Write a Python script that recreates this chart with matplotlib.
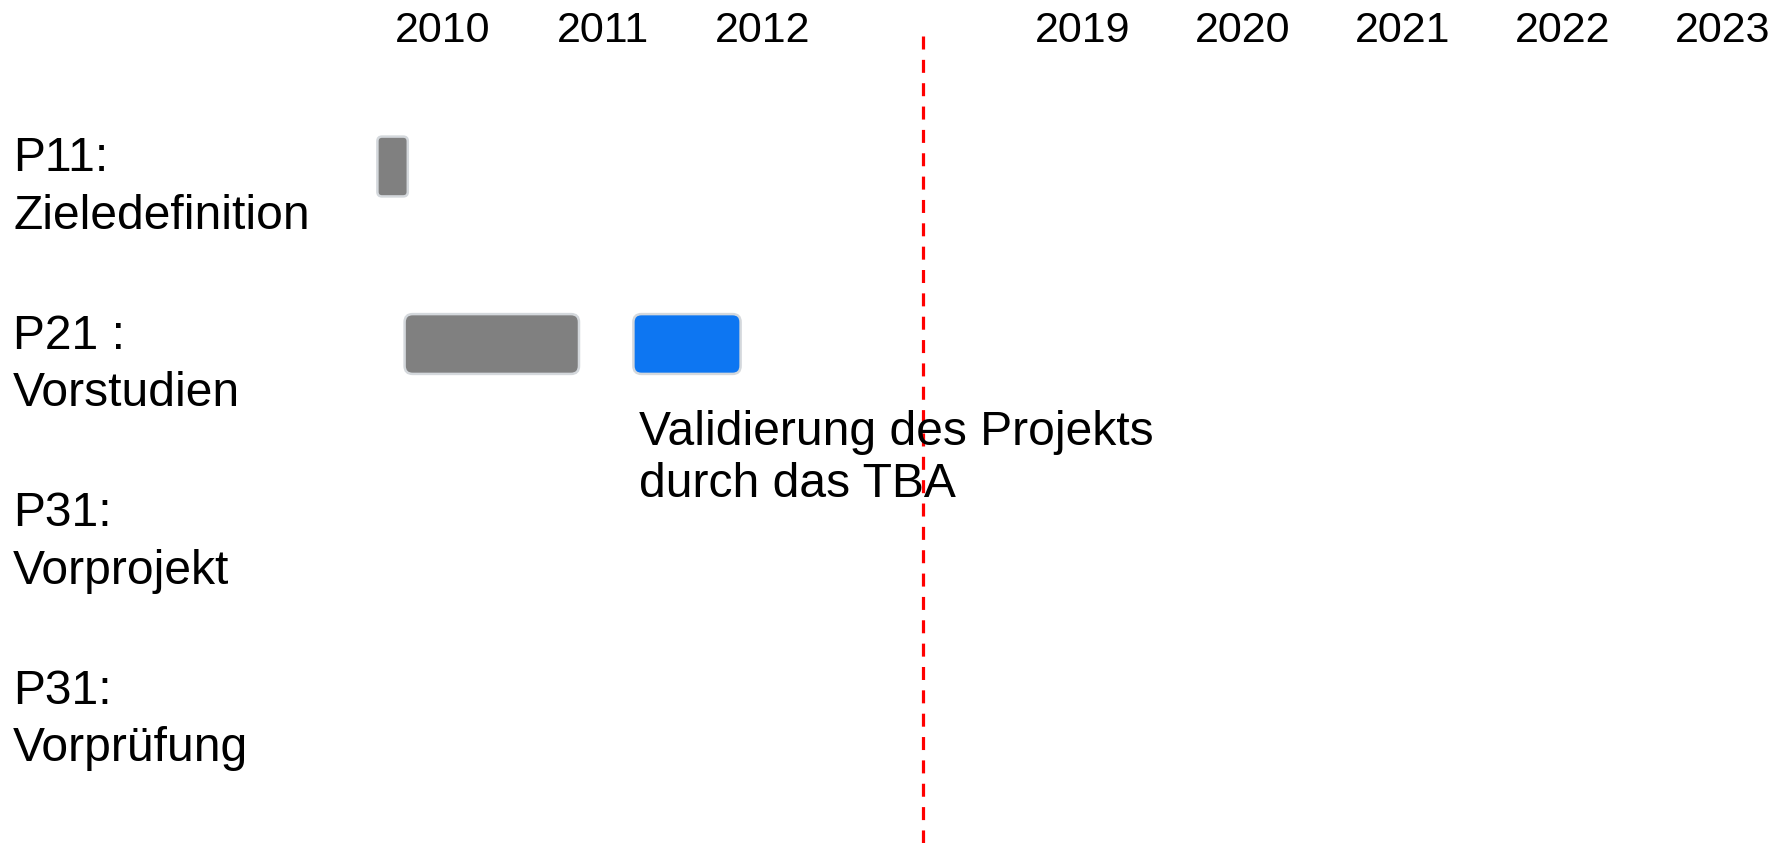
import matplotlib
matplotlib.use("Agg")
import matplotlib.pyplot as plt
from matplotlib.patches import FancyBboxPatch

# Zeitachse: "" = Lücke zwischen 2012 und 2019 (dort steht die rote Linie)
jahre = ["2010", "2011", "2012", "", "2019", "2020", "2021", "2022", "2023"]

phasen = ["P11:\nZieledefinition", "P21 :\nVorstudien", "P31:\nVorprojekt", "P31:\nVorprüfung"]

# Balken (Start/Ende als Dezimaljahre)
balken_zeile = [0, 1, 1]
balken_start = [2010.09, 2010.26, 2011.69]
balken_ende = [2010.28, 2011.35, 2012.36]
balken_farbe = ["#808080", "#808080", "#0d76f2"]

notiz_text = "Validierung des Projekts\ndurch das TBA"
notiz_balken = 2

plt.rcParams["font.family"] = ["Liberation Sans", "DejaVu Sans"]

fig = plt.figure(figsize=(17.85, 8.43), dpi=100)
ax = fig.add_axes([0, 0, 1, 1])

px_spalte = 160.0   # Pixel pro Spalte (Jahr)
px_zeile = 177.5    # Pixel pro Zeile
ax.set_xlim(-443 / px_spalte, (1785 - 443) / px_spalte)
ax.set_ylim((843 - 166.5) / px_zeile, -166.5 / px_zeile)
ax.axis("off")


def jahr_zu_x(j):
    spalte = jahre.index(str(int(j)))
    return spalte - 0.5 + (j - int(j))


# Jahreszahlen oben
for i, j in enumerate(jahre):
    if j:
        ax.text(i, -0.701, j, ha="center", va="baseline", fontsize=31)

# Phasen links
for z, t in enumerate(phasen):
    ax.text(13 / 1785, z - 0.17, t, transform=ax.get_yaxis_transform(),
            ha="left", va="top", fontsize=34.6, linespacing=1.36)

# Balken mit runden Ecken
for z, s, e, c in zip(balken_zeile, balken_start, balken_ende, balken_farbe):
    x0, x1 = jahr_zu_x(s), jahr_zu_x(e)
    b = x1 - x0
    h = 0.337
    r = min(0.05, b * 0.15)
    box = FancyBboxPatch((x0, z - h / 2), b, h,
                         boxstyle=f"round,pad=0,rounding_size={r}",
                         mutation_aspect=px_spalte / px_zeile,
                         fc=c, ec="#d4d8dc", lw=1.8)
    ax.add_patch(box)

# Beschriftung unter dem blauen Balken
ax.text(jahr_zu_x(balken_start[notiz_balken]) + 6 / px_spalte,
        balken_zeile[notiz_balken] + 0.37, notiz_text,
        ha="left", va="top", fontsize=34.6, linespacing=1.21)

# rote gestrichelte Linie in der Lücke
trennung = jahre.index("")
ax.plot([trennung, trennung], [-0.735, ax.get_ylim()[0]], color="red", lw=2.3,
        linestyle=(0, (4.07, 3.24)), dash_capstyle="butt")

fig.savefig("out.png", dpi=100)
